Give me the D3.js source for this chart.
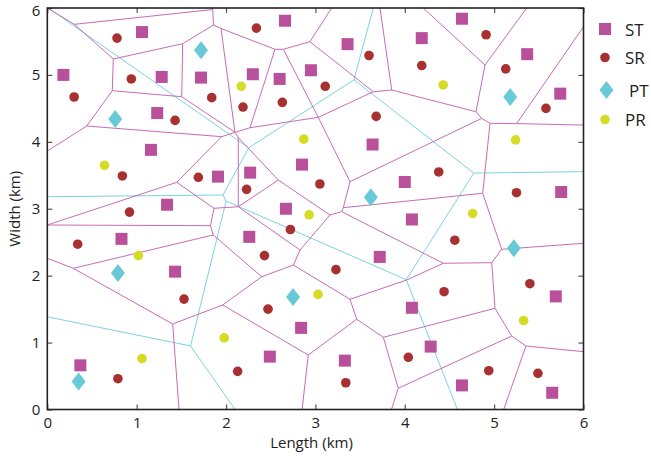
<!DOCTYPE html>
<html>
<head>
<meta charset="utf-8">
<script src="https://cdn.jsdelivr.net/npm/d3@7"></script>
<style>
  body { margin: 0; background: #fff; }
  svg { display: block; }
  text { font-family: "Open Sans", sans-serif; fill: #222; }
</style>
</head>
<body>
<svg id="chart" width="651" height="456"></svg>
<script>
// Axis ticks (km)
const xTicks = [0, 1, 2, 3, 4, 5, 6];
const yTicks = [0, 1, 2, 3, 4, 5, 6];

// Secondary transmitters (ST), [length km, width km]
const st = [
  [0.18, 5.00], [1.06, 5.64], [1.28, 4.97], [1.72, 4.96], [1.23, 4.43], [1.16, 3.88],
  [1.91, 3.48], [2.27, 3.54], [1.34, 3.06], [0.83, 2.55], [1.43, 2.06], [2.26, 2.58],
  [2.67, 3.00], [2.85, 3.66], [2.30, 5.01], [2.66, 5.81], [2.60, 4.94], [2.95, 5.07],
  [3.36, 5.46], [4.19, 5.55], [4.64, 5.84], [5.37, 5.31], [5.74, 4.72], [3.64, 3.96],
  [4.00, 3.40], [4.08, 2.84], [3.72, 2.28], [5.75, 3.25], [5.69, 1.69], [4.08, 1.52],
  [4.29, 0.94], [2.84, 1.22], [3.33, 0.73], [2.49, 0.79], [0.37, 0.66], [4.64, 0.36],
  [5.65, 0.25]
];

// Secondary receivers (SR)
const sr = [
  [0.78, 5.55], [0.94, 4.94], [0.30, 4.67], [1.84, 4.66], [1.43, 4.32], [2.34, 5.70],
  [3.60, 5.29], [4.19, 5.14], [2.19, 4.52], [2.63, 4.59], [3.11, 4.83], [3.68, 4.38],
  [4.91, 5.60], [5.13, 5.09], [5.58, 4.50], [0.84, 3.49], [1.69, 3.47], [0.92, 2.95],
  [0.34, 2.47], [3.05, 3.37], [2.23, 3.29], [2.72, 2.69], [2.43, 2.30], [3.23, 2.09],
  [4.38, 3.55], [5.25, 3.24], [4.56, 2.53], [1.53, 1.65], [0.79, 0.46], [2.47, 1.50],
  [2.13, 0.57], [3.34, 0.40], [4.04, 0.78], [4.44, 1.76], [5.40, 1.88], [4.94, 0.58],
  [5.49, 0.54]
];

// Primary transmitters (PT)
const pt = [
  [1.72, 5.37], [0.76, 4.34], [5.18, 4.67], [0.79, 2.04], [3.62, 3.17],
  [5.22, 2.41], [0.35, 0.42], [2.75, 1.68]
];

// Primary receivers (PR)
const pr = [
  [2.17, 4.83], [2.87, 4.04], [4.43, 4.85], [0.64, 3.65], [1.02, 2.30], [2.93, 2.91],
  [5.24, 4.03], [4.76, 2.93], [1.98, 1.07], [1.06, 0.76], [3.03, 1.72], [5.33, 1.33]
];

// Secondary-network cell boundaries: vertices (km) and the edges joining them
const cellVertices = {
  a1: [0, 6], a2: [0.302, 5.756], a3: [1.851, 5.977], a3t: [1.853, 6], a4: [1.860, 5.746],
  a5: [0.738, 5.238], a6: [1.515, 5.466], a7: [0.727, 4.764], a8: [1.504, 4.674],
  a9: [0.441, 4.236], a10: [1.944, 5.693],
  d1: [2.100, 4.142], d2: [2.137, 4.065],
  b1: [1.951, 4.077], b2: [1.448, 3.395], b3: [1.865, 3.007], b4: [1.826, 2.747],
  b5: [1.857, 2.608], b6: [0.291, 2.110],
  L1: [0, 3.863], L2: [0, 2.757], L3: [0, 2.259],
  c1: [2.548, 5.383], c2: [2.641, 5.383], c3: [2.939, 5.496], c4: [3.182, 6],
  c5: [3.648, 4.749], c6: [3.854, 4.774], c7: [3.723, 6], c8: [3.032, 4.366], c9: [2.268, 4.211],
  e1: [4.898, 5.148], T1: [4.207, 6], T2: [5.364, 6], e2: [4.797, 4.450], e3: [4.861, 4.351],
  e4: [4.954, 4.277], e5: [5.252, 4.272],
  R0: [6, 5.720], R1: [6, 4.251], R2: [6, 2.484], R3: [6, 0.864],
  f1: [4.872, 3.231], f2: [5.085, 2.394], f3: [4.973, 2.194], f4: [4.431, 2.185],
  f5: [5.010, 1.512], f6: [5.196, 1.098], f7: [5.356, 0.949],
  g1: [2.399, 1.984], g2: [2.920, 0.814], g3: [3.462, 1.348], g4: [3.387, 1.647],
  g5: [4.022, 1.935], g6: [3.760, 1.079], g7: [3.927, 0.317],
  h1: [3.312, 3.016], h2: [3.294, 2.956], h3: [3.387, 3.404], h4: [3.163, 2.906],
  h5: [2.585, 3.429], h6: [2.828, 2.383], h7: [2.137, 3.030], h8: [2.753, 2.159],
  i1: [1.403, 1.278], i2: [1.963, 1.562],
  B1: [1.474, 0], B2: [2.851, 0], B3: [3.851, 0], B4: [5.107, 0]
};

const cellEdges = [
  "a1-a2", "a2-a3", "a3-a3t", "a3-a4", "a4-a10", "a10-c1", "a4-a6", "a2-a5", "a5-a6",
  "a5-a7", "a6-a8", "a7-a8", "a7-a9", "a9-L1", "a9-b1", "a8-d1", "a10-d1", "d1-c9",
  "d1-b1", "d1-d2", "d2-h7", "d2-h5", "b1-b2", "b2-L2", "b2-b3", "b3-b4", "b3-h7",
  "b4-L2", "b4-b5", "b5-b6", "b5-g1", "b6-L3", "b6-i1", "i1-i2", "i1-B1", "i2-g1",
  "i2-g2", "c1-c2", "c1-c9", "c2-c3", "c2-c8", "c3-c4", "c3-c5", "c5-c6", "c5-c8",
  "c6-c7", "c6-e2", "c8-c9", "c8-h3", "h3-e3", "h3-h1", "h1-f1", "h1-h2", "h2-f4",
  "h2-h4", "h4-h5", "h4-h6", "h5-h7", "h7-h6", "h6-h8", "h8-g1", "h8-g4", "g4-g3",
  "g4-g5", "g5-f4", "g3-g2", "g3-g6", "g2-B2", "g6-f5", "g6-g7", "g7-f6", "g7-B3",
  "f6-f5", "f6-f7", "f7-R3", "f7-B4", "f5-f3", "f3-f2", "f3-f4", "f2-f1", "f2-R2",
  "f1-e4", "e4-e3", "e4-e5", "e5-R1", "e5-R0", "e3-e2", "e2-e1", "e1-T1", "e1-T2"
];

const legendItems = ["ST", "SR", "PT", "PR"];

const colors = {
  ST: "#b8509c", SR: "#a83030", PT: "#68c9d8", PR: "#d6dc26",
  stCell: "#c76bb9", ptCell: "#7cd2e2"
};

const svg = d3.select("#chart");
const x = d3.scaleLinear().domain([0, 6]).range([47.3, 583.5]);
const y = d3.scaleLinear().domain([0, 6]).range([409.5, 8]);

const plot = svg.append("g");

// Primary-network Voronoi cells around the PT sites
const ptVoronoi = d3.Delaunay.from(pt).voronoi([0, 0, 6, 6]);
const ptPath = d3.path();
ptVoronoi.render({
  moveTo: (a, b) => ptPath.moveTo(x(a), y(b)),
  lineTo: (a, b) => ptPath.lineTo(x(a), y(b)),
  closePath: () => ptPath.closePath()
});
plot.append("path")
  .attr("d", ptPath.toString())
  .attr("fill", "none")
  .attr("stroke", colors.ptCell)
  .attr("stroke-width", 1);

// Secondary-network cells
plot.append("g").selectAll("line")
  .data(cellEdges.map(e => e.split("-").map(k => cellVertices[k])))
  .join("line")
  .attr("x1", d => x(d[0][0])).attr("y1", d => y(d[0][1]))
  .attr("x2", d => x(d[1][0])).attr("y2", d => y(d[1][1]))
  .attr("stroke", colors.stCell)
  .attr("stroke-width", 1);

// Markers
const sq = 12, rDot = 4.8, dW = 7, dH = 9;
const diamond = `M0,${-dH}L${dW},0L0,${dH}L${-dW},0Z`;

plot.append("g").selectAll("circle")
  .data(sr).join("circle")
  .attr("cx", d => x(d[0])).attr("cy", d => y(d[1])).attr("r", rDot)
  .attr("fill", colors.SR);

plot.append("g").selectAll("circle")
  .data(pr).join("circle")
  .attr("cx", d => x(d[0])).attr("cy", d => y(d[1])).attr("r", rDot)
  .attr("fill", colors.PR);

plot.append("g").selectAll("rect")
  .data(st).join("rect")
  .attr("x", d => x(d[0]) - sq / 2).attr("y", d => y(d[1]) - sq / 2)
  .attr("width", sq).attr("height", sq)
  .attr("fill", colors.ST);

plot.append("g").selectAll("path")
  .data(pt).join("path")
  .attr("d", diamond)
  .attr("transform", d => `translate(${x(d[0])},${y(d[1])})`)
  .attr("fill", colors.PT);

// Axes: inward ticks on all four sides, labels on bottom and left
const tickLen = 5;
function styleAxis(g) {
  g.select(".domain").remove();
  g.selectAll(".tick line").attr("stroke", "#555").attr("stroke-width", 1.2);
  g.selectAll(".tick text").style("font-family", '"Open Sans", sans-serif')
    .style("font-size", "15px").attr("fill", "#222");
}
svg.append("g").attr("transform", `translate(0,${y(0)})`)
  .call(d3.axisBottom(x).tickValues(xTicks).tickFormat(d3.format("d"))
    .tickSize(-tickLen).tickSizeOuter(0).tickPadding(8))
  .call(styleAxis);
svg.append("g").attr("transform", `translate(${x(0)},0)`)
  .call(d3.axisLeft(y).tickValues(yTicks).tickFormat(d3.format("d"))
    .tickSize(-tickLen).tickSizeOuter(0).tickPadding(7))
  .call(styleAxis)
  // keep the top label inside the canvas
  .call(g => g.selectAll(".tick text").filter(d => d === 6).attr("dy", "0.5em"));
svg.append("g").attr("transform", `translate(0,${y(6)})`)
  .call(d3.axisTop(x).tickValues(xTicks).tickFormat("").tickSize(-tickLen).tickSizeOuter(0))
  .call(styleAxis);
svg.append("g").attr("transform", `translate(${x(6)},0)`)
  .call(d3.axisRight(y).tickValues(yTicks).tickFormat("").tickSize(-tickLen).tickSizeOuter(0))
  .call(styleAxis);

// Plot frame
svg.append("rect")
  .attr("x", x(0)).attr("y", y(6))
  .attr("width", x(6) - x(0)).attr("height", y(0) - y(6))
  .attr("fill", "none").attr("stroke", "#222").attr("stroke-width", 1.6);

// Axis titles
svg.append("text")
  .attr("x", 311.5).attr("y", 448)
  .attr("text-anchor", "middle").style("font-size", "15px")
  .text("Length (km)");
svg.append("text")
  .attr("transform", `translate(20,${(y(0) + y(6)) / 2}) rotate(-90)`)
  .attr("text-anchor", "middle").style("font-size", "15px")
  .text("Width (km)");

// Legend
const legend = svg.append("g").attr("transform", "translate(605,0)");
const legendY = [29, 57.5, 90, 119.5];
legendItems.forEach((name, i) => {
  const g = legend.append("g").attr("transform", `translate(0,${legendY[i]})`);
  if (name === "ST") {
    g.append("rect").attr("x", -sq / 2).attr("y", -sq / 2).attr("width", sq).attr("height", sq)
      .attr("fill", colors.ST);
  } else if (name === "PT") {
    g.append("path").attr("d", diamond).attr("transform", "translate(1.5,0)").attr("fill", colors.PT);
  } else {
    g.append("circle").attr("r", rDot).attr("fill", colors[name]);
  }
  g.append("text")
    .attr("x", name === "PT" ? 24 : 20).attr("y", 6.5)
    .style("font-size", "17px")
    .text(name);
});
</script>
</body>
</html>
